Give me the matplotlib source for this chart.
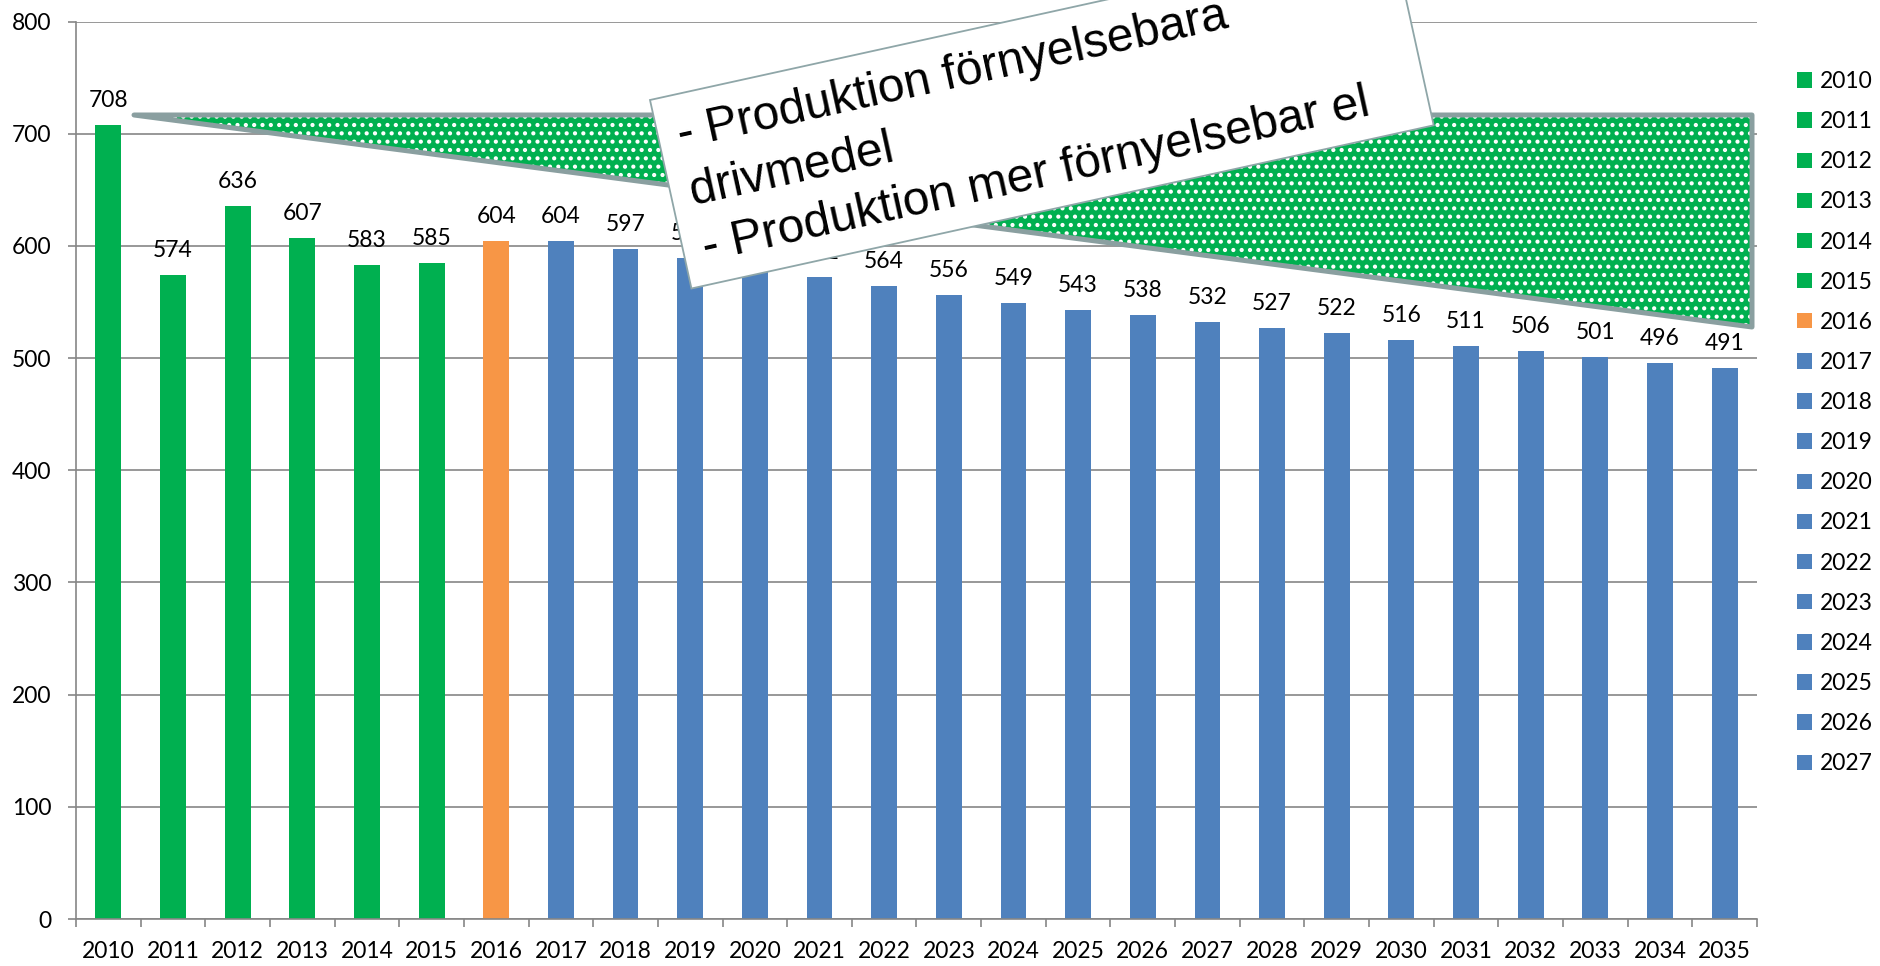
import numpy as np
import matplotlib
matplotlib.use("Agg")
import matplotlib.pyplot as plt
from matplotlib.patches import Polygon

# ---------------- data ----------------
years = [str(y) for y in range(2010, 2036)]
values = [708, 574, 636, 607, 583, 585, 604, 604, 597, 589, 580, 572, 564,
          556, 549, 543, 538, 532, 527, 522, 516, 511, 506, 501, 496, 491]
groups = ["hist"] * 6 + ["base"] + ["proj"] * 19
group_colors = {"hist": "#00B050", "base": "#F79646", "proj": "#4F81BD"}
legend_count = 18  # Excel legend shows only 2010-2027
yticks = list(range(0, 801, 100))
callout_lines = ["- Produktion förnyelsebara",
                 "drivmedel",
                 "- Produktion mer förnyelsebar el"]

# ---------------- figure ----------------
W, H = 1881, 966
plt.rcParams['font.family'] = ['Lato', 'DejaVu Sans']
plt.rcParams['hatch.linewidth'] = 1.8
fig = plt.figure(figsize=(W / 100, H / 100), dpi=100)
ax = fig.add_axes([76 / W, 1 - 919 / H, (1757 - 76) / W, (919 - 21.6) / H])

grid_c = "#868686"
for i, (yr, v, g) in enumerate(zip(years, values, groups)):
    ax.bar(i, v, width=0.40, color=group_colors[g], label=yr, zorder=2)
    ax.annotate(str(v), (i, v), xytext=(0, 13), textcoords="offset points",
                ha="center", va="baseline", fontsize=16.5, color="black", zorder=3)

ax.set_xlim(-0.5, len(years) - 0.5)
ax.set_ylim(0, 800)
ax.set_yticks(yticks)
ax.set_yticklabels([str(t) for t in yticks], fontsize=16.5)
ax.yaxis.grid(True, color=grid_c, lw=1.2)
ax.set_axisbelow(True)
ax.set_xticks(range(len(years)))
ax.set_xticklabels(years, fontsize=16.5)
ax.set_xticks(np.arange(-0.5, len(years), 1.0), minor=True)
ax.tick_params(axis="x", which="major", length=0, pad=16)
ax.tick_params(axis="x", which="minor", length=5.8, width=1.2, color=grid_c, direction="out")
ax.tick_params(axis="y", which="major", length=5.8, width=1.2, color=grid_c, pad=12)
for s in ["top", "right"]:
    ax.spines[s].set_visible(False)
for s in ["left", "bottom"]:
    ax.spines[s].set_color(grid_c)
    ax.spines[s].set_linewidth(1.2)

# legend
handles, labels = ax.get_legend_handles_labels()
leg = fig.legend(handles[:legend_count], labels[:legend_count],
                 loc="upper left", bbox_to_anchor=(1797 / W, 1 - 71 / H),
                 frameon=False, fontsize=16.5, handlelength=0.66, handleheight=0.66,
                 handletextpad=0.34, labelspacing=0.835, borderpad=0, borderaxespad=0)

# ---------------- decoration: green wedge and rotated text box ----------------
def P(x, y):
    return (x / W, 1 - y / H)

tri = [P(134, 115), P(1752, 115), P(1752, 327)]
fill = Polygon(tri, closed=True, transform=fig.transFigure, facecolor="#00B050",
               edgecolor="white", hatch="..", lw=0, zorder=5)
fig.add_artist(fill)
border = Polygon(tri, closed=True, transform=fig.transFigure, facecolor="none",
                 edgecolor="#8A9FA0", lw=3.6, joinstyle="round", zorder=6)
fig.add_artist(border)

theta = np.deg2rad(12.4)
c, s = np.cos(theta), np.sin(theta)
TL = np.array([650.0, 100.0])
u = np.array([c, -s])   # along text (pixel coords, y down)
v = np.array([s, c])    # down, perpendicular

def local(uu, vv):
    p = TL + uu * u + vv * v
    return P(p[0], p[1])

bw, bh = 760, 193
box = Polygon([local(0, 0), local(bw, 0), local(bw, bh), local(0, bh)], closed=True,
              transform=fig.transFigure, facecolor="white", edgecolor="#8FA6A8",
              lw=1.3, zorder=10)
fig.add_artist(box)
for k, line in enumerate(callout_lines):
    x0, y0 = local(20, 54 + 57.6 * k)
    fig.text(x0, y0, line, rotation=np.rad2deg(theta), rotation_mode="anchor",
             ha="left", va="baseline", fontsize=34.5, family=["Liberation Sans", "DejaVu Sans"],
             color="black", zorder=11)

fig.savefig("out.png", dpi=100)
